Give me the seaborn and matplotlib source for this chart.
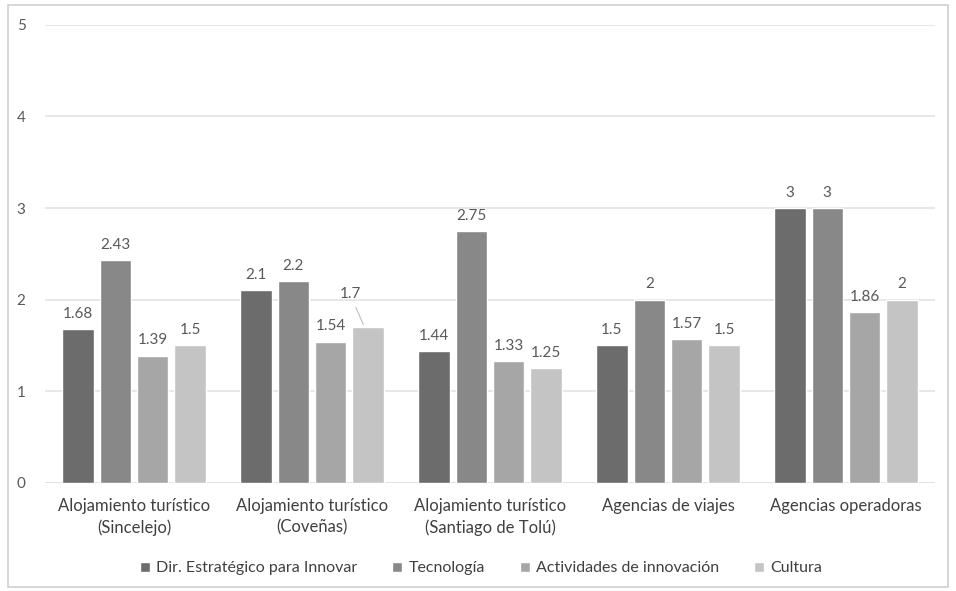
import pandas as pd
import matplotlib.pyplot as plt
import seaborn as sns
from matplotlib.patches import Rectangle

# Datos
categorias = ['Alojamiento turístico\n(Sincelejo)',
              'Alojamiento turístico\n(Coveñas)',
              'Alojamiento turístico\n(Santiago de Tolú)',
              'Agencias de viajes',
              'Agencias operadoras']
series = ['Dir. Estratégico para Innovar', 'Tecnología',
          'Actividades de innovación', 'Cultura']
dir_estrategico = [1.68, 2.1, 1.44, 1.5, 3]
tecnologia = [2.43, 2.2, 2.75, 2, 3]
actividades = [1.39, 1.54, 1.33, 1.57, 1.86]
cultura = [1.5, 1.7, 1.25, 1.5, 2]
etiquetas = [
    ['1.68', '2.1', '1.44', '1.5', '3'],
    ['2.43', '2.2', '2.75', '2', '3'],
    ['1.39', '1.54', '1.33', '1.57', '1.86'],
    ['1.5', '1.7', '1.25', '1.5', '2'],
]

colores = ['#6c6c6c', '#888888', '#a6a6a6', '#c4c4c4']

df = pd.DataFrame({'Categoria': categorias * 4,
                   'Serie': [s for s in series for _ in categorias],
                   'Valor': dir_estrategico + tecnologia + actividades + cultura})

sns.set_style('white')
plt.rcParams['font.family'] = ['Lato', 'DejaVu Sans']

fig = plt.figure(figsize=(9.56, 5.91), dpi=100)
ax = fig.add_axes([0.047, 0.183, 0.931, 0.775])

sns.barplot(data=df, x='Categoria', y='Valor', hue='Serie',
            palette=colores, width=0.84, gap=0.16, ax=ax,
            saturation=1, legend=True)

ax.set_ylim(0, 5)
ax.set_xlim(-0.5, 4.5)
ax.set_yticks(range(0, 6))
ax.yaxis.grid(True, color='#e3e3e3', linewidth=1.2)
ax.set_axisbelow(True)
for s in ax.spines.values():
    s.set_visible(False)
ax.axhline(0, color='#d4d4d4', linewidth=1.2, zorder=0)
ax.set_xlabel('')
ax.set_ylabel('')
ax.tick_params(axis='y', colors='#595959', labelsize=11, length=0, pad=14)
ax.tick_params(axis='x', colors='#404040', labelsize=12, length=0, pad=11)
for t in ax.get_xticklabels():
    t.set_linespacing(1.4)

# Etiquetas de valor
for cont, labs in zip(ax.containers, etiquetas):
    for bar, txt in zip(cont, labs):
        x = bar.get_x() + bar.get_width() / 2
        h = bar.get_height()
        if txt == '1.7':
            ax.annotate(txt, xy=(x - 0.02, h), xytext=(x - 0.1, h + 0.28),
                        ha='center', va='bottom', fontsize=11, color='#595959',
                        arrowprops=dict(arrowstyle='-', color='#bfbfbf', lw=0.8))
            continue
        ax.annotate(txt, xy=(x, h), xytext=(0, 6), textcoords='offset points',
                    ha='center', va='bottom', fontsize=11, color='#595959')

leg = ax.legend(loc='upper center', bbox_to_anchor=(0.49, -0.14), ncol=4,
                frameon=False, fontsize=11.5, handlelength=0.6, handleheight=0.6,
                handletextpad=0.4, columnspacing=2.2)
for t in leg.get_texts():
    t.set_color('#404040')

# Marco exterior del gráfico
fig.patches.append(Rectangle((0.008, 0.006), 0.984, 0.985, transform=fig.transFigure,
                             fill=False, edgecolor='#d0d0d0', linewidth=1.2))

fig.savefig('out.png', dpi=100)
plt.close(fig)
